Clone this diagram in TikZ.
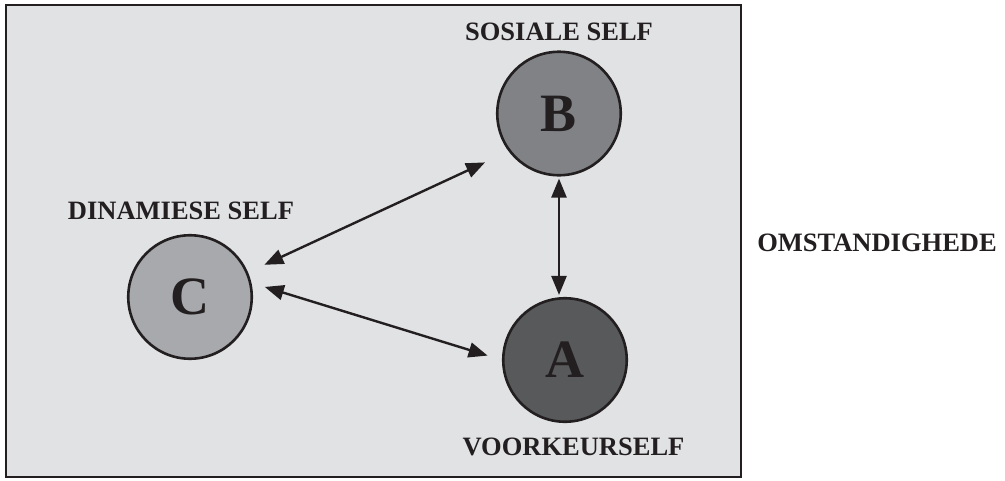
\documentclass[tikz,border=0pt]{standalone}
\usepackage{fontspec}
\setmainfont{Liberation Serif}
\usetikzlibrary{arrows.meta}
\definecolor{bg}{HTML}{E1E2E4}
\definecolor{ink}{HTML}{231F20}
\definecolor{cA}{HTML}{58595B}
\definecolor{cB}{HTML}{808285}
\definecolor{cC}{HTML}{A7A9AC}
\tikzset{
  selfcircle/.style={circle, draw=ink, line width=2.6pt, minimum size=123.5pt, inner sep=0pt,
    font=\fontsize{54}{54}\selectfont\bfseries, text=ink},
  lbl/.style={inner sep=0pt, font=\fontsize{26.5}{27}\selectfont\bfseries, text=ink},
  dbl/.style={{Triangle[length=19pt,width=15pt]}-{Triangle[length=19pt,width=15pt]}, line width=2.4pt, draw=ink}
}
\begin{document}
\begin{tikzpicture}[x=1pt,y=-1pt]
\useasboundingbox (0,0) rectangle (1005,480);
\fill[white] (0,0) rectangle (1005,480);
\draw[fill=bg, draw=ink, line width=2.6pt] (6,5) rectangle (741,477);
\node[selfcircle, fill=cB] (B) at (559,113.5) {B};
\node[selfcircle, fill=cA] (A) at (565,360) {A};
\node[selfcircle, fill=cC] (C) at (190,297) {C};
\node[lbl] (lB) at (559,32) {SOSIALE SELF};
\node[lbl] (lC) at (181,210.5) {DINAMIESE SELF};
\node[lbl] (lA) at (573.5,447) {VOORKEURSELF};
\node[lbl] (lO) at (877,242.5) {OMSTANDIGHEDE};
\draw[dbl, shorten <=18pt, shorten >=26pt] (C.23) -- (B.217);
\draw[dbl, shorten <=14pt, shorten >=15pt] (C.13) -- (A.180);
\draw[dbl, shorten <=2pt, shorten >=2pt] (B.south) -- (B.south |- A.north);
\end{tikzpicture}
\end{document}
